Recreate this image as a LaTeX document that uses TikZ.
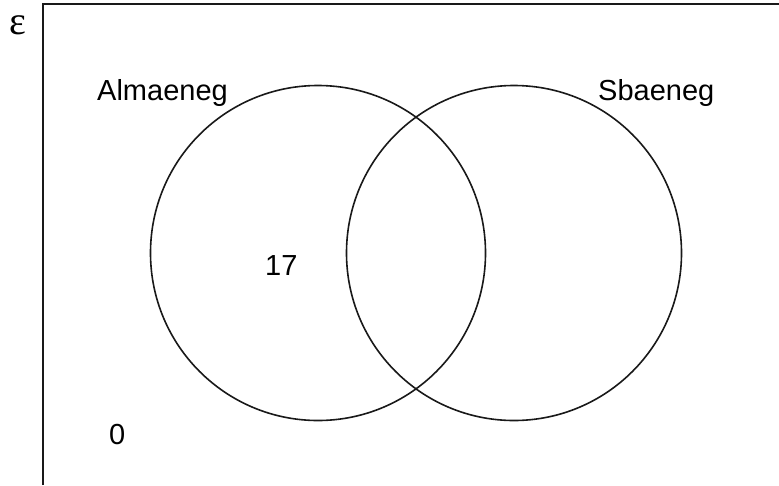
\documentclass[tikz,border=0pt]{standalone}
\usepackage{fontspec}
\setmainfont{Liberation Sans}
\newfontfamily\epsfont{Liberation Serif}
\usepackage{tikz}
\usetikzlibrary{calc}

\begin{document}
\begin{tikzpicture}[
  x=1pt, y=-1pt,
  every node/.append style={font=\fontsize{29}{33}\selectfont, inner sep=0pt},
  setline/.style={line width=1.6pt, black!90},
  setcircle/.style={setline, draw, circle, minimum size=335pt},
]

% ---------- canvas ----------
\useasboundingbox (0,0) rectangle (779,485);

% ---------- universal set frame ----------
\coordinate (framebot) at (43,485);
\coordinate (framecorner) at (43,4);
\coordinate (frameright) at (779,4);
\draw[setline, line width=2pt] (framebot) -- (framecorner) -- (frameright);
\node[anchor=base west, font=\epsfont\fontsize{40}{44}\selectfont] (univ) at (9,34) {ε};

% ---------- the two sets ----------
\node[setcircle] (almaen) at (318,253) {};
\node[setcircle] (sbaen) at (514,253) {};

% labels
\node[anchor=base west] (almaenlab) at (97,100) {Almaeneg};
\node[anchor=base west] (sbaenlab) at (598,100) {Sbaeneg};

% counts
\node[anchor=base west] (onlyalmaen) at (265,275) {17};
\node[anchor=base west] (outside) at (109,444) {0};

\end{tikzpicture}
\end{document}
